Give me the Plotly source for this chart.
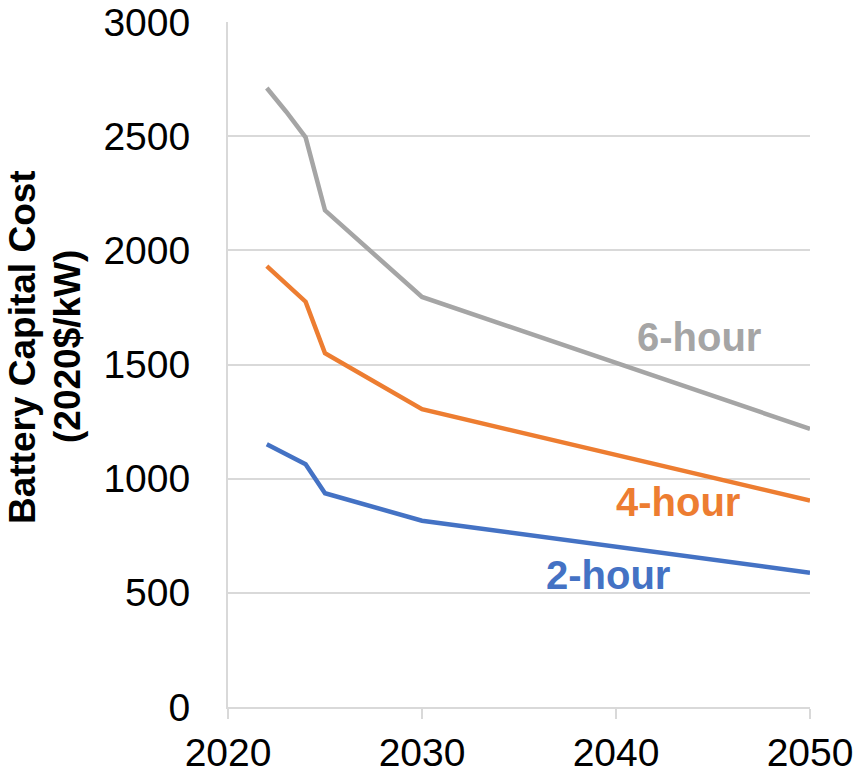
import plotly.graph_objects as go

years = [2022, 2023, 2024, 2025, 2030, 2050]
cost_6h = [2711, 2607, 2495, 2175, 1796, 1218]
cost_4h = [1931, 1853, 1775, 1549, 1304, 904]
cost_2h = [1151, 1107, 1063, 936, 816, 588]

series_names = ["2-hour", "4-hour", "6-hour"]
series_colors = ["#4472C4", "#ED7D31", "#A5A5A5"]
series_values = [cost_2h, cost_4h, cost_6h]
label_pos = [(2039.6, 580), (2043.2, 900), (2044.3, 1620)]

x_ticks = [2020, 2030, 2040, 2050]
y_ticks = [0, 500, 1000, 1500, 2000, 2500, 3000]
y_title_lines = ["Battery Capital Cost", "(2020$/kW)"]

FONT = "Liberation Sans, Arial, sans-serif"

W, H = 856, 773
ML, MR, MT, MB = 228, 46, 22, 66
PW, PH = W - ML - MR, H - MT - MB

fig = go.Figure()
for name, color, vals in zip(series_names, series_colors, series_values):
    fig.add_trace(go.Scatter(x=years, y=vals, mode="lines", name=name,
                             line=dict(color=color, width=4.5), showlegend=False))

for (lx, ly), name, color in zip(label_pos, series_names, series_colors):
    fig.add_annotation(x=lx, y=ly, xref="x", yref="y", text="<b>%s</b>" % name,
                       showarrow=False, font=dict(family=FONT, size=40, color=color))

for cx, line in zip([22, 67], y_title_lines):
    fig.add_annotation(x=(cx - ML) / PW, y=(H - MB - 347) / PH, xref="paper", yref="paper",
                       xanchor="center", yanchor="middle",
                       text="<b>%s</b>" % line, textangle=-90,
                       showarrow=False, font=dict(family=FONT, size=37, color="#000000"))

fig.update_layout(
    width=W, height=H,
    margin=dict(l=ML, r=MR, t=MT, b=MB, autoexpand=False),
    paper_bgcolor="white", plot_bgcolor="white",
    font=dict(family=FONT, size=39, color="#000000"),
)
fig.update_xaxes(range=[2020, 2050], tickvals=x_ticks, showgrid=False,
                 showline=True, linecolor="#D9D9D9", linewidth=2,
                 ticks="outside", ticklen=10, tickwidth=2, tickcolor="#D9D9D9",
                 tickfont=dict(family=FONT, size=39, color="#000000"),
                 ticklabeloverflow="allow",
                 zeroline=False, fixedrange=True, automargin=False)
fig.update_yaxes(range=[0, 3000], tickvals=y_ticks, showgrid=True,
                 gridcolor="#D9D9D9", gridwidth=2,
                 showline=True, linecolor="#D9D9D9", linewidth=2,
                 ticks="outside", ticklen=0, ticklabelstandoff=28,
                 tickfont=dict(family=FONT, size=39, color="#000000"),
                 ticklabeloverflow="allow",
                 zeroline=False, fixedrange=True, automargin=False)

fig.write_html("out.html", config={"displayModeBar": False},
               post_script="document.body.style.margin='0';")
